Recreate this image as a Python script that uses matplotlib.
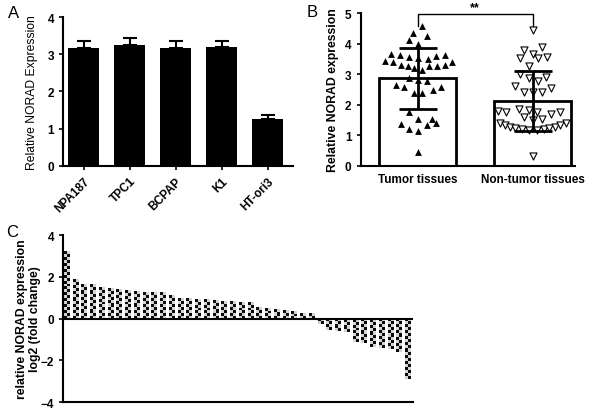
import numpy as np
import matplotlib
matplotlib.use("Agg")
import matplotlib.pyplot as plt
from matplotlib.colors import ListedColormap

plt.rcParams['font.family'] = ['Liberation Sans', 'DejaVu Sans']

# ---------------- data ----------------
# panel A: cell lines
cell_lines = ["NPA187", "TPC1", "BCPAP", "K1", "HT-ori3"]
cell_expr = [3.16, 3.25, 3.16, 3.2, 1.26]
cell_err = [0.19, 0.19, 0.19, 0.15, 0.12]

# panel B: tissues (mean, SD) + individual samples (jitter offset, value)
groups = ["Tumor tissues", "Non-tumor tissues"]
group_mean = [2.87, 2.13]
group_sd = [0.99, 0.99]

tumor_dx = [0.04, -0.04, 0.08, -0.08, 0.0,
            -0.235, -0.157, -0.08, 0.0, 0.087, 0.16, 0.24,
            -0.29, -0.22, -0.15, -0.09, -0.03, 0.04, 0.1, 0.17, 0.24, 0.3,
            -0.08, 0.0, 0.08,
            -0.19, -0.12, 0.2, 0.13, -0.035, 0.04,
            -0.08, 0.0, 0.12, 0.16, -0.15, 0.08, -0.08, 0.0, 0.0]
tumor_y = [4.59, 4.34, 4.26, 4.11, 3.99,
           3.67, 3.65, 3.57, 3.54, 3.5, 3.59, 3.64,
           3.44, 3.39, 3.31, 3.26, 3.2, 3.15, 3.26, 3.26, 3.31, 3.41,
           2.87, 2.8, 2.79,
           2.65, 2.57, 2.57, 2.49, 2.38, 2.38,
           1.77, 1.55, 1.55, 1.42, 1.37, 1.33, 1.2, 1.14, 0.44]

normal_dx = [0.0, 0.085, -0.075, 0.0, 0.045, 0.125, -0.11, -0.03,
             -0.11, -0.03, 0.045, 0.12, -0.155, 0.16, -0.075, 0.0, 0.085,
             -0.3, -0.23, -0.12, -0.035, 0.04, 0.16, 0.24, -0.075, 0.0, 0.08,
             -0.285, -0.24, -0.2, -0.15, -0.09, -0.035, 0.035, 0.1, 0.14, 0.195, 0.24, 0.29,
             0.0]
normal_y = [4.46, 3.89, 3.8, 3.66, 3.54, 3.57, 3.53, 3.28,
            3.0, 2.87, 2.78, 2.9, 2.62, 2.55, 2.43, 2.41, 2.43,
            1.8, 1.78, 1.88, 1.83, 1.75, 1.7, 1.77, 1.59, 1.51, 1.55,
            1.4, 1.33, 1.28, 1.24, 1.2, 1.17, 1.17, 1.2, 1.24, 1.28, 1.33, 1.4,
            0.33]

# panel C: log2 fold change per patient (sorted)
fold_change = [3.25, 1.88, 1.64, 1.64, 1.53, 1.48, 1.41, 1.38, 1.34, 1.28,
               1.27, 1.25, 1.11, 1.0, 0.97, 0.94, 0.94, 0.9, 0.84, 0.83,
               0.81, 0.81, 0.55, 0.52, 0.44, 0.42, 0.38, 0.27, 0.27,
               -0.28, -0.56, -0.6, -0.62, -1.1, -1.19, -1.34, -1.4, -1.48, -1.6, -2.9]

fig = plt.figure(figsize=(5.94, 4.10), dpi=100)


def style(ax):
    ax.spines['top'].set_visible(False)
    ax.spines['right'].set_visible(False)
    for s in ['left', 'bottom']:
        ax.spines[s].set_linewidth(1.5)
    ax.tick_params(width=1.2, length=3, labelsize=8.5)
    for lab in ax.get_yticklabels():
        lab.set_fontweight('bold')


# ---------------- A ----------------
axA = fig.add_axes([0.106, 0.593, 0.387, 0.363])
xa = np.arange(len(cell_lines))
axA.bar(xa, cell_expr, width=0.68, color='black', zorder=2)
axA.errorbar(xa, cell_expr, yerr=[np.zeros(len(cell_err)), cell_err], fmt='none',
             ecolor='black', elinewidth=1.5, capsize=5, capthick=1.5, zorder=1)
axA.set_xlim(-0.45, 4.55)
axA.set_ylim(0, 4)
axA.set_yticks([0, 1, 2, 3, 4])
axA.set_xticks(xa)
axA.set_xticklabels(cell_lines, rotation=45, ha='right', rotation_mode='anchor',
                    fontweight='bold', fontsize=8.3)
axA.set_ylabel("Relative NORAD Expression", fontsize=8.7, labelpad=7)
style(axA)

# ---------------- B ----------------
axB = fig.add_axes([0.607, 0.593, 0.361, 0.372])
xb = np.arange(len(groups))
axB.bar(xb, group_mean, width=0.67, color='white', edgecolor='black', linewidth=2, zorder=1)
axB.scatter(xb[0] + np.array(tumor_dx), tumor_y, marker='^', s=24, color='black',
            linewidths=0, zorder=2)
axB.scatter(xb[1] + np.array(normal_dx), normal_y, marker='v', s=26, facecolor='white',
            edgecolor='black', linewidths=0.8, zorder=2)
axB.errorbar(xb, group_mean, yerr=group_sd, fmt='none', ecolor='black', elinewidth=2,
             capsize=14, capthick=2, zorder=3)
axB.plot([0, 0, 1, 1], [4.6, 4.98, 4.98, 4.6], color='black', lw=1, clip_on=False)
axB.text(0.5, 5.02, "**", ha='center', va='bottom', fontsize=9, fontweight='bold')
axB.set_xlim(-0.5, 1.37)
axB.set_ylim(0, 5)
axB.set_yticks([0, 1, 2, 3, 4, 5])
axB.set_xticks(xb)
axB.set_xticklabels(groups, fontweight='bold', fontsize=8.8)
axB.set_ylabel("Relative NORAD expression", fontsize=8.8, fontweight='bold', labelpad=4)
style(axB)
axB.tick_params(axis='x', length=0, pad=5)

# ---------------- C ----------------
axC = fig.add_axes([0.106, 0.017, 0.589, 0.407])
xc = np.arange(len(fold_change))
bw = 0.68
checker_cmap = ListedColormap(['#0a0a0a', '#d4d4d4'])
for x, h in zip(xc, fold_change):
    rows = max(1, int(round(abs(h) * 7)))
    pat = np.indices((rows, 2)).sum(axis=0) % 2
    y0, y1 = (0, h) if h > 0 else (h, 0)
    axC.imshow(pat, extent=(x - bw / 2, x + bw / 2, y0, y1), aspect='auto',
               cmap=checker_cmap, interpolation='nearest', zorder=2)
axC.axhline(0, color='black', lw=1.5, zorder=3)
axC.set_xlim(-0.45, 39.55)
axC.set_ylim(-4, 4)
axC.set_yticks([-4, -2, 0, 2, 4])
axC.set_xticks([])
axC.set_ylabel("relative NORAD expression\nlog2 (fold change)", fontsize=8.8,
               fontweight='bold', linespacing=1.15)
axC.yaxis.set_label_coords(-0.062, 0.5)
style(axC)

# panel letters
fig.text(0.013, 0.968, "A", fontsize=12, va='center')
fig.text(0.516, 0.97, "B", fontsize=12, va='center')
fig.text(0.011, 0.432, "C", fontsize=12, va='center')

fig.savefig("out.png", dpi=100)
